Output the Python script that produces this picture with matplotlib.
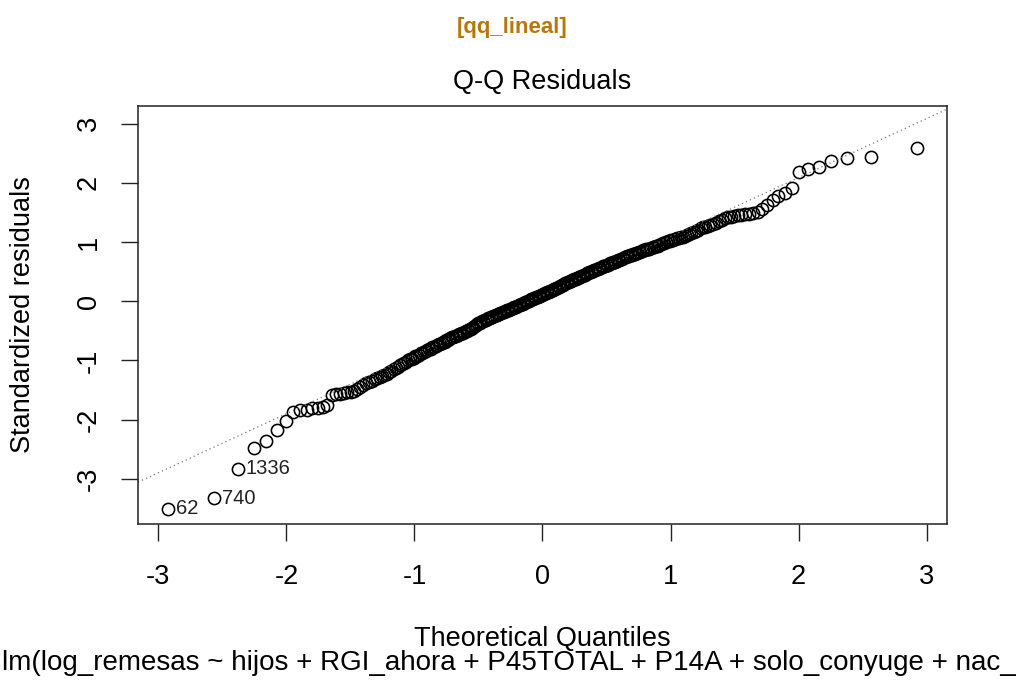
#!/usr/bin/env python3

from statistics import NormalDist
import numpy as np
import matplotlib
matplotlib.use("Agg")
import matplotlib.pyplot as plt

plt.rcParams["font.family"] = ["Liberation Sans", "DejaVu Sans"]
plt.rcParams["axes.unicode_minus"] = False

# Sorted standardized residuals (lowest first)
resid_low = [
    -3.50, -3.33, -2.83, -2.47, -2.36, -2.18, -2.02, -1.87, -1.84, -1.83,
    -1.81, -1.80, -1.78, -1.76, -1.59, -1.57, -1.56, -1.55, -1.54, -1.53,
    -1.51, -1.48, -1.45, -1.42, -1.38, -1.36, -1.34, -1.32, -1.30, -1.28,
    -1.27, -1.25, -1.22, -1.20, -1.17, -1.15, -1.13, -1.11, -1.08, -1.06,
    -1.04, -1.02, -1.00, -0.98, -0.97, -0.95, -0.93, -0.92, -0.90, -0.88,
    -0.87, -0.86, -0.84, -0.83, -0.81, -0.80, -0.78, -0.77, -0.76, -0.74,
    -0.73, -0.72, -0.70, -0.69, -0.68, -0.66, -0.65, -0.63, -0.62, -0.61,
    -0.60, -0.59, -0.58, -0.57, -0.56, -0.55, -0.54, -0.53, -0.52, -0.51,
    -0.50, -0.49, -0.47, -0.46, -0.45, -0.43, -0.42, -0.40, -0.39, -0.37,
    -0.36, -0.35, -0.34, -0.33, -0.32, -0.31, -0.30, -0.29, -0.28, -0.27,
    -0.26, -0.25, -0.25, -0.24, -0.23, -0.22, -0.21, -0.20, -0.19, -0.18,
    -0.18, -0.17, -0.16, -0.15, -0.14, -0.14, -0.13, -0.12, -0.11, -0.10,
    -0.10, -0.09, -0.08, -0.07, -0.06, -0.05, -0.04, -0.04, -0.03, -0.02,
    -0.01, 0.00, 0.01, 0.02, 0.03, 0.03, 0.04, 0.05, 0.06, 0.07,
    0.08, 0.09, 0.09, 0.10, 0.11,
]
resid_high = [
    0.12, 0.13, 0.14, 0.14, 0.15, 0.16, 0.17, 0.18, 0.19, 0.19,
    0.20, 0.21, 0.22, 0.23, 0.24,
    0.25, 0.26, 0.27, 0.28, 0.29, 0.30, 0.31, 0.32, 0.33, 0.34,
    0.35, 0.36, 0.36, 0.37, 0.38, 0.39, 0.40, 0.41, 0.41, 0.42,
    0.43, 0.44, 0.45, 0.46, 0.47, 0.48, 0.49, 0.50, 0.51, 0.51,
    0.52, 0.53, 0.54, 0.55, 0.56, 0.57, 0.58, 0.59, 0.60, 0.60,
    0.61, 0.62, 0.63, 0.64, 0.65, 0.66, 0.67, 0.67, 0.68, 0.69,
    0.70, 0.71, 0.72, 0.73, 0.74, 0.75, 0.76, 0.77, 0.78, 0.78,
    0.79, 0.80, 0.81, 0.82, 0.83, 0.84, 0.85, 0.86, 0.87, 0.88,
    0.88, 0.89, 0.90, 0.91, 0.92, 0.93, 0.94, 0.95, 0.96, 0.98,
    0.99, 1.00, 1.01, 1.02, 1.03, 1.04, 1.05, 1.06, 1.07, 1.08,
    1.09, 1.10, 1.12, 1.13, 1.15, 1.17, 1.19, 1.21, 1.23, 1.25,
    1.26, 1.27, 1.28, 1.30, 1.33, 1.35, 1.38, 1.40, 1.42, 1.43,
    1.44, 1.45, 1.46, 1.47, 1.48, 1.49, 1.51, 1.56, 1.62, 1.71,
    1.77, 1.82, 1.91, 2.19, 2.23, 2.27, 2.37, 2.42, 2.44, 2.58,
]
# row names of the three most extreme points (sorted positions 0, 1, 2)
outlier_names = ["62", "740", "1336"]
axis_ticks = [-3, -2, -1, 0, 1, 2, 3]

tag_text = "[qq_lineal]"
title_text = "Q-Q Residuals"
xlabel_text = "Theoretical Quantiles"
ylabel_text = "Standardized residuals"
sub_text = "lm(log_remesas ~ hijos + RGI_ahora + P45TOTAL + P14A + solo_conyuge + nac_"

W, H = 1022, 691


def fx(px):
    return px / W


def fy(py):
    return 1 - py / H


def main() -> None:
    y = np.array(resid_low + resid_high)
    n = len(y)
    nd = NormalDist()
    # same as R's qnorm(ppoints(n))
    x = np.array([nd.inv_cdf((i + 0.5) / n) for i in range(n)])

    fig = plt.figure(figsize=(W / 100, H / 100), dpi=100)
    left, right, top, bottom = 138, 947, 106, 524
    ax = fig.add_axes([fx(left), fy(bottom), fx(right - left), (bottom - top) / H])

    ax.plot(x, y, linestyle="none", marker="o", markersize=8.8,
            markerfacecolor="none", markeredgecolor="black", markeredgewidth=1.15)

    # qqline through the quartiles
    q1, q3 = np.quantile(y, [0.25, 0.75])
    t1, t3 = nd.inv_cdf(0.25), nd.inv_cdf(0.75)
    slope = (q3 - q1) / (t3 - t1)
    icpt = q1 - slope * t1
    ax.axline((0, icpt), slope=slope, color="#777777", linestyle=(0, (1, 2.5)),
              linewidth=0.9)

    for k, name in enumerate(outlier_names):
        ax.annotate(name, (x[k], y[k]), xytext=(5.5, 0), textcoords="offset points",
                    ha="left", va="center", fontsize=14.5, color="#222222")

    # R style limits: 4% padding, extra room on top for labels
    xr = x.max() - x.min()
    ax.set_xlim(x.min() - 0.04 * xr, x.max() + 0.04 * xr)
    ylo, yhi = y.min(), y.max() + 0.075 * (y.max() - y.min())
    yr = yhi - ylo
    ax.set_ylim(ylo - 0.04 * yr, yhi + 0.04 * yr)

    ax.set_xticks(axis_ticks)
    ax.set_yticks(axis_ticks)
    ax.set_xticklabels([str(t) for t in axis_ticks])
    ax.set_yticklabels([str(t) for t in axis_ticks], rotation=90, va="center")
    ax.tick_params(axis="both", direction="out", length=12, width=1.0,
                   color="#222222", labelsize=19.5)
    ax.tick_params(axis="x", pad=17)
    ax.tick_params(axis="y", pad=14)
    for s in ax.spines.values():
        s.set_color("#222222")
        s.set_linewidth(1.1)

    fig.text(fx(512), fy(27), tag_text, ha="center", va="center",
             fontsize=16, fontweight="bold", color="#B8760F")
    fig.text(fx((left + right) / 2), fy(82), title_text, ha="center",
             va="center", fontsize=19.5)
    fig.text(fx((left + right) / 2), fy(639), xlabel_text, ha="center",
             va="center", fontsize=19.5)
    fig.text(fx(23), fy((top + bottom) / 2), ylabel_text, ha="center",
             va="center", rotation=90, fontsize=19.5)
    fig.text(fx(2), fy(663), sub_text, ha="left", va="center", fontsize=20)

    fig.savefig("out.png", dpi=100)


if __name__ == "__main__":
    main()
